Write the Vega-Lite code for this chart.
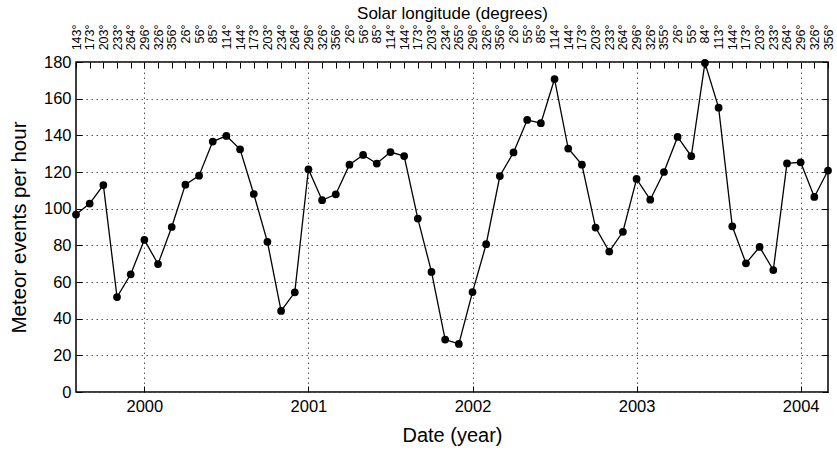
{
  "$schema": "https://vega.github.io/schema/vega-lite/v6.json",
  "width": 752,
  "height": 330,
  "autosize": {"type": "none"},
  "padding": {"left": 76, "top": 62, "right": 9, "bottom": 60},
  "background": "white",
  "config": {
    "font": "Liberation Sans",
    "view": {"stroke": "#000", "strokeWidth": 1.5},
    "axis": {"labelColor": "#000", "titleColor": "#000", "titleFontWeight": "normal", "domain": false, "tickColor": "#000", "tickWidth": 1}
  },
  "data": {"values": [
    {"t": 1999.5833, "sl": 143, "rate": 96.8},
    {"t": 1999.6667, "sl": 173, "rate": 102.8},
    {"t": 1999.75, "sl": 203, "rate": 112.9},
    {"t": 1999.8333, "sl": 233, "rate": 51.8},
    {"t": 1999.9167, "sl": 264, "rate": 64.2},
    {"t": 2000, "sl": 296, "rate": 83.0},
    {"t": 2000.0833, "sl": 326, "rate": 69.8},
    {"t": 2000.1667, "sl": 356, "rate": 90.0},
    {"t": 2000.25, "sl": 26, "rate": 113.1},
    {"t": 2000.3333, "sl": 56, "rate": 118.0},
    {"t": 2000.4167, "sl": 85, "rate": 136.6},
    {"t": 2000.5, "sl": 114, "rate": 139.7},
    {"t": 2000.5833, "sl": 144, "rate": 132.4},
    {"t": 2000.6667, "sl": 173, "rate": 108.0},
    {"t": 2000.75, "sl": 203, "rate": 81.9},
    {"t": 2000.8333, "sl": 234, "rate": 44.2},
    {"t": 2000.9167, "sl": 264, "rate": 54.4},
    {"t": 2001, "sl": 296, "rate": 121.5},
    {"t": 2001.0833, "sl": 326, "rate": 104.6},
    {"t": 2001.1667, "sl": 356, "rate": 107.8},
    {"t": 2001.25, "sl": 26, "rate": 124.0},
    {"t": 2001.3333, "sl": 56, "rate": 129.3},
    {"t": 2001.4167, "sl": 85, "rate": 124.6},
    {"t": 2001.5, "sl": 114, "rate": 130.9},
    {"t": 2001.5833, "sl": 144, "rate": 128.7},
    {"t": 2001.6667, "sl": 173, "rate": 94.6},
    {"t": 2001.75, "sl": 203, "rate": 65.5},
    {"t": 2001.8333, "sl": 234, "rate": 28.6},
    {"t": 2001.9167, "sl": 265, "rate": 26.2},
    {"t": 2002, "sl": 296, "rate": 54.5},
    {"t": 2002.0833, "sl": 326, "rate": 80.6},
    {"t": 2002.1667, "sl": 356, "rate": 117.8},
    {"t": 2002.25, "sl": 26, "rate": 130.7},
    {"t": 2002.3333, "sl": 55, "rate": 148.4},
    {"t": 2002.4167, "sl": 85, "rate": 146.6},
    {"t": 2002.5, "sl": 114, "rate": 170.7},
    {"t": 2002.5833, "sl": 144, "rate": 132.8},
    {"t": 2002.6667, "sl": 173, "rate": 124.0},
    {"t": 2002.75, "sl": 203, "rate": 89.7},
    {"t": 2002.8333, "sl": 233, "rate": 76.6},
    {"t": 2002.9167, "sl": 264, "rate": 87.4},
    {"t": 2003, "sl": 296, "rate": 116.2},
    {"t": 2003.0833, "sl": 326, "rate": 104.9},
    {"t": 2003.1667, "sl": 355, "rate": 120.0},
    {"t": 2003.25, "sl": 26, "rate": 139.1},
    {"t": 2003.3333, "sl": 55, "rate": 128.6},
    {"t": 2003.4167, "sl": 84, "rate": 179.5},
    {"t": 2003.5, "sl": 113, "rate": 155.1},
    {"t": 2003.5833, "sl": 144, "rate": 90.4},
    {"t": 2003.6667, "sl": 173, "rate": 70.2},
    {"t": 2003.75, "sl": 203, "rate": 79.1},
    {"t": 2003.8333, "sl": 233, "rate": 66.5},
    {"t": 2003.9167, "sl": 264, "rate": 124.7},
    {"t": 2004, "sl": 296, "rate": 125.3},
    {"t": 2004.0833, "sl": 326, "rate": 106.4},
    {"t": 2004.1667, "sl": 356, "rate": 120.8}
  ]},
  "layer": [
    {
      "mark": {"type": "line", "color": "#000", "strokeWidth": 1.3, "point": {"filled": true, "color": "#000", "size": 60, "opacity": 1}},
      "encoding": {
        "x": {
          "field": "t", "type": "quantitative",
          "scale": {"domain": [1999.5833, 2004.1667], "nice": false, "zero": false},
          "axis": {
            "orient": "bottom", "title": "Date (year)", "values": [2000, 2001, 2002, 2003, 2004], "format": "d",
            "tickSize": -6, "labelPadding": 12, "labelFlush": false, "labelFontSize": 16.5, "titleFontSize": 20, "titlePadding": 11,
            "grid": true, "gridDash": [1.5, 3.5], "gridColor": "#555", "gridWidth": 1
          }
        },
        "y": {
          "field": "rate", "type": "quantitative",
          "scale": {"domain": [0, 180], "nice": false},
          "axis": {
            "title": "Meteor events per hour", "values": [0, 20, 40, 60, 80, 100, 120, 140, 160, 180],
            "tickSize": -6, "labelPadding": 11, "labelFontSize": 16.5, "titleFontSize": 20.5, "titlePadding": 14,
            "grid": true, "gridDash": [1.5, 3.5], "gridColor": "#555", "gridWidth": 1
          }
        }
      }
    },
    {
      "mark": {"type": "point", "opacity": 0},
      "encoding": {
        "x": {
          "field": "t", "type": "quantitative",
          "axis": {
            "orient": "top", "title": "Solar longitude (degrees)",
            "values": [1999.5833, 1999.6667, 1999.75, 1999.8333, 1999.9167, 2000, 2000.0833, 2000.1667, 2000.25, 2000.3333, 2000.4167, 2000.5, 2000.5833, 2000.6667, 2000.75, 2000.8333, 2000.9167, 2001, 2001.0833, 2001.1667, 2001.25, 2001.3333, 2001.4167, 2001.5, 2001.5833, 2001.6667, 2001.75, 2001.8333, 2001.9167, 2002, 2002.0833, 2002.1667, 2002.25, 2002.3333, 2002.4167, 2002.5, 2002.5833, 2002.6667, 2002.75, 2002.8333, 2002.9167, 2003, 2003.0833, 2003.1667, 2003.25, 2003.3333, 2003.4167, 2003.5, 2003.5833, 2003.6667, 2003.75, 2003.8333, 2003.9167, 2004, 2004.0833, 2004.1667],
            "labelExpr": "['143°','173°','203°','233°','264°','296°','326°','356°','26°','56°','85°','114°','144°','173°','203°','234°','264°','296°','326°','356°','26°','56°','85°','114°','144°','173°','203°','234°','265°','296°','326°','356°','26°','55°','85°','114°','144°','173°','203°','233°','264°','296°','326°','355°','26°','55°','84°','113°','144°','173°','203°','233°','264°','296°','326°','356°'][round((datum.value - 1999.5833) * 12)]",
            "labelAngle": 270, "labelAlign": "right", "labelBaseline": "middle", "labelPadding": 44,
            "labelFontSize": 12.5, "labelOverlap": false, "labelFlush": false, "labelBound": false,
            "tickSize": -6, "grid": false, "titleFontSize": 17, "titlePadding": 2
          }
        },
        "y": {
          "field": "rate", "type": "quantitative",
          "axis": {"orient": "right", "title": null, "labels": false, "values": [0, 20, 40, 60, 80, 100, 120, 140, 160, 180], "tickSize": -6, "grid": false}
        }
      }
    }
  ],
  "resolve": {"axis": {"x": "independent", "y": "independent"}}
}
